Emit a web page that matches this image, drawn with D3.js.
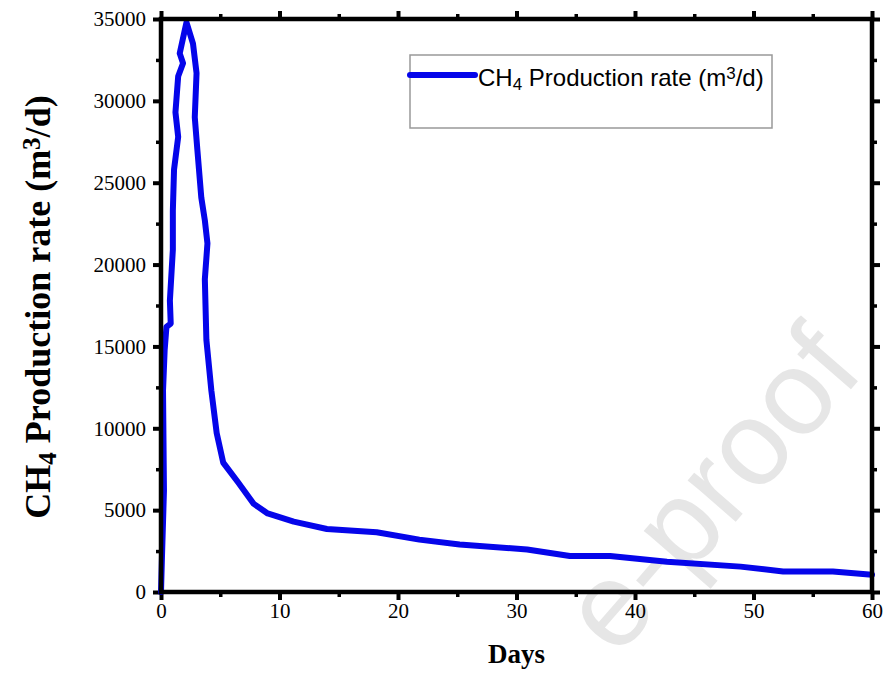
<!DOCTYPE html>
<html>
<head>
<meta charset="utf-8">
<script src="https://cdn.jsdelivr.net/npm/d3@7"></script>
<style>
  html, body { margin: 0; padding: 0; background: #fff; }
  svg { display: block; }
  .tick text { font-family: "Liberation Serif", "Times New Roman", serif; font-size: 21px; fill: #000; }
</style>
</head>
<body>
<svg id="chart"></svg>
<script>
// CH4 production rate vs time
const days = [0, 0.08, 0.25, 0.17, 0.31, 0.46, 0.82, 0.75, 1.0, 1.0, 1.1, 1.45, 1.22, 1.45, 1.86, 1.58,
  2.15, 2.7, 3.0, 2.85, 3.07, 3.4, 3.7, 3.92, 3.7, 3.83, 4.25, 4.7, 5.25, 6.5, 7.8, 9.0,
  11.2, 14.0, 18.2, 21.8, 25.2, 30.9, 34.5, 37.9, 42.7, 48.9, 52.5, 56.7, 60];
const rate = [0, 2100, 6200, 12300, 14800, 16200, 16400, 17800, 20900, 23300, 25800, 27800, 29300, 31500, 32300, 32900,
  34800, 33500, 31700, 29000, 27000, 24100, 22700, 21300, 19100, 15400, 12300, 9700, 7900, 6700, 5400, 4800,
  4300, 3850, 3650, 3200, 2900, 2600, 2200, 2200, 1850, 1550, 1250, 1250, 1050];

const xMajor = [0, 10, 20, 30, 40, 50, 60];
const xMinor = [5, 15, 25, 35, 45, 55];
const yMajor = [0, 5000, 10000, 15000, 20000, 25000, 30000, 35000];
const yMinor = [2500, 7500, 12500, 17500, 22500, 27500, 32500];

const width = 886, height = 697;
const margin = { top: 19, right: 14, bottom: 105, left: 161 };
const innerWidth = width - margin.left - margin.right;
const innerHeight = height - margin.top - margin.bottom;
const lineColor = '#0505ea';

const svg = d3.select('#chart').attr('width', width).attr('height', height);

const x = d3.scaleLinear().domain([0, 60]).range([0, innerWidth]);
const y = d3.scaleLinear().domain([0, 35000]).range([innerHeight, 0]);

// faint watermark (only its visible tail, cut by the bottom edge as in the source)
svg.append('text')
  .attr('transform', 'translate(866,372) rotate(-49)')
  .attr('text-anchor', 'end')
  .style('font-family', '"Liberation Sans", Arial, sans-serif')
  .style('font-size', '120px')
  .style('fill', '#e6e6e6')
  .text('e-proof');

const g = svg.append('g').attr('transform', `translate(${margin.left},${margin.top})`);

function ticks(sel, w, labelled) {
  sel.selectAll('.tick line').attr('stroke', '#000').attr('stroke-width', w);
  sel.select('.domain').remove();
  if (!labelled) sel.selectAll('.tick text').remove();
}

// minor ticks (all four sides)
g.append('g').attr('transform', `translate(0,${innerHeight})`)
  .call(d3.axisBottom(x).tickValues(xMinor).tickSize(5)).call(ticks, 3.5, false);
g.append('g').call(d3.axisTop(x).tickValues(xMinor).tickSize(5)).call(ticks, 3.5, false);
g.append('g').call(d3.axisLeft(y).tickValues(yMinor).tickSize(5)).call(ticks, 3.5, false);
g.append('g').attr('transform', `translate(${innerWidth},0)`)
  .call(d3.axisRight(y).tickValues(yMinor).tickSize(5)).call(ticks, 3.5, false);

// major ticks
g.append('g').attr('transform', `translate(0,${innerHeight})`)
  .call(d3.axisBottom(x).tickValues(xMajor).tickSize(8).tickPadding(3).tickFormat(d3.format('d')))
  .call(ticks, 4, true);
g.append('g').call(d3.axisTop(x).tickValues(xMajor).tickSize(8)).call(ticks, 4, false);
g.append('g')
  .call(d3.axisLeft(y).tickValues(yMajor).tickSize(8).tickPadding(7).tickFormat(d3.format('d')))
  .call(ticks, 4, true);
g.append('g').attr('transform', `translate(${innerWidth},0)`)
  .call(d3.axisRight(y).tickValues(yMajor).tickSize(8)).call(ticks, 4, false);

// data line
const pts = days.map((d, i) => [d, rate[i]]);
const line = d3.line().x(d => x(d[0])).y(d => y(d[1]));
g.append('path')
  .datum(pts)
  .attr('d', line)
  .attr('fill', 'none')
  .attr('stroke', lineColor)
  .attr('stroke-width', 6)
  .attr('stroke-linejoin', 'round')
  .attr('stroke-linecap', 'round');

// frame
g.append('rect')
  .attr('width', innerWidth)
  .attr('height', innerHeight)
  .attr('fill', 'none')
  .attr('stroke', '#000')
  .attr('stroke-width', 4.5);

// legend
const leg = svg.append('g').attr('transform', 'translate(410,55)');
leg.append('rect')
  .attr('width', 362).attr('height', 73)
  .attr('fill', '#fff').attr('stroke', '#999').attr('stroke-width', 1.5);
leg.append('line')
  .attr('x1', 0).attr('x2', 65).attr('y1', 20).attr('y2', 20)
  .attr('stroke', lineColor).attr('stroke-width', 6).attr('stroke-linecap', 'round');
const lt = leg.append('text')
  .attr('x', 68).attr('y', 31)
  .style('font-family', '"Liberation Sans", Arial, sans-serif')
  .style('font-size', '24px');
lt.append('tspan').text('CH');
lt.append('tspan').attr('baseline-shift', '-25%').style('font-size', '17px').text('4');
lt.append('tspan').text(' Production rate (m');
lt.append('tspan').attr('baseline-shift', '40%').style('font-size', '17px').text('3');
lt.append('tspan').text('/d)');

// axis titles
const yl = svg.append('text')
  .attr('transform', 'translate(50,307) rotate(-90)')
  .attr('text-anchor', 'middle')
  .style('font-family', '"Liberation Serif", "Times New Roman", serif')
  .style('font-weight', 'bold')
  .style('font-size', '36px');
yl.append('tspan').text('CH');
yl.append('tspan').attr('baseline-shift', '-25%').style('font-size', '25px').text('4');
yl.append('tspan').text(' Production rate (m');
yl.append('tspan').attr('baseline-shift', '40%').style('font-size', '25px').text('3');
yl.append('tspan').text('/d)');

svg.append('text')
  .attr('x', margin.left + innerWidth / 2)
  .attr('y', 663)
  .attr('text-anchor', 'middle')
  .style('font-family', '"Liberation Serif", "Times New Roman", serif')
  .style('font-weight', 'bold')
  .style('font-size', '27px')
  .text('Days');
</script>
</body>
</html>
